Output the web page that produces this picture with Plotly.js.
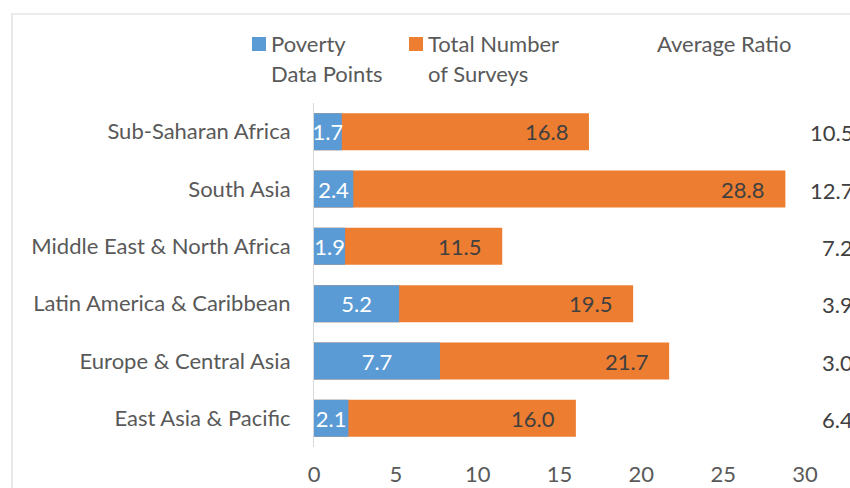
<!DOCTYPE html>
<html>
<head>
<meta charset="utf-8">
<script src="https://cdn.plot.ly/plotly-3.0.1.min.js"></script>
<style>html,body{margin:0;padding:0;background:#fff;}#chart{width:850px;height:488px;}</style>
</head>
<body>
<div id="chart"></div>
<script>
// Data (bottom to top, as drawn)
const regions = ["East Asia & Pacific", "Europe & Central Asia", "Latin America & Caribbean",
                 "Middle East & North Africa", "South Asia", "Sub-Saharan Africa"];
const povertyPoints = [2.1, 7.7, 5.2, 1.9, 2.4, 1.7];
const totalSurveys = [16.0, 21.7, 19.5, 11.5, 28.8, 16.8];
const averageRatio = [6.4, 3.0, 3.9, 7.2, 12.7, 10.5];
const seriesNames = ["Poverty", "Data Points", "Total Number", "of Surveys", "Average Ratio"];
const xTicks = [0, 5, 10, 15, 20, 25, 30];

const FONT = "Lato, 'Open Sans', sans-serif";
const BLUE = "#5B9BD5", ORANGE = "#ED7D31";
const FS = 22;

const traces = [
  {
    type: "bar", orientation: "h", name: "Total Number of Surveys",
    y: regions, x: totalSurveys, width: 0.645,
    marker: {color: ORANGE}, hoverinfo: "x+y"
  },
  {
    type: "bar", orientation: "h", name: "Poverty Data Points",
    y: regions, x: povertyPoints, width: 0.645,
    marker: {color: BLUE},
    text: povertyPoints.map(v => v.toFixed(1)),
    textposition: "inside", insidetextanchor: "middle", textangle: 0,
    constraintext: "none", cliponaxis: false,
    textfont: {family: FONT, size: FS, color: "#ffffff"}, hoverinfo: "x+y"
  }
];

const annotations = [];
regions.forEach((r, i) => {
  // orange value labels, inside end
  annotations.push({
    x: totalSurveys[i], y: r, xref: "x", yref: "y",
    text: totalSurveys[i].toFixed(1), showarrow: false,
    xanchor: "right", xshift: -19,
    font: {family: FONT, size: FS, color: "#404040"}
  });
  // average ratio column
  annotations.push({
    x: 1.1018, y: r, xref: "paper", yref: "y",
    text: averageRatio[i].toFixed(1), showarrow: false,
    xanchor: "right", yshift: -1,
    font: {family: FONT, size: FS, color: "#404040"}
  });
});

// legend (manual)
function pxX(px) { return (px - 314) / 491; }
function pxY(px) { return 1 + (103 - px) / 344; }
const legendText = [
  [seriesNames[0], 269, 44], [seriesNames[1], 269, 73],
  [seriesNames[2], 426, 44], [seriesNames[3], 426, 73],
  [seriesNames[4], 655, 44]
];
legendText.forEach(t => annotations.push({
  x: pxX(t[1]), y: pxY(t[2]), xref: "paper", yref: "paper",
  text: t[0], showarrow: false, xanchor: "left", yanchor: "middle",
  font: {family: FONT, size: FS, color: "#595959"}
}));

const shapes = [
  {type: "rect", xref: "paper", yref: "paper", x0: pxX(252), x1: pxX(266), y0: pxY(51), y1: pxY(37),
   fillcolor: BLUE, line: {width: 0}},
  {type: "rect", xref: "paper", yref: "paper", x0: pxX(409), x1: pxX(423), y0: pxY(51), y1: pxY(37),
   fillcolor: ORANGE, line: {width: 0}},
  {type: "rect", xref: "paper", yref: "paper", x0: pxX(12), x1: 1.3, y0: -0.4, y1: pxY(14),
   fillcolor: "rgba(0,0,0,0)", line: {color: "#d9d9d9", width: 1.2}, layer: "below"}
];

const layout = {
  width: 850, height: 488,
  margin: {l: 314, r: 45, t: 103, b: 41, pad: 0},
  paper_bgcolor: "#ffffff", plot_bgcolor: "#ffffff",
  barmode: "overlay", showlegend: false,
  font: {family: FONT, size: FS, color: "#595959"},
  xaxis: {
    range: [0, 30], tickvals: xTicks, ticktext: xTicks.map(String),
    showgrid: false, zeroline: false, showline: false, ticks: "",
    ticklabelstandoff: 12, tickfont: {family: FONT, size: FS, color: "#595959"}, fixedrange: true
  },
  yaxis: {
    type: "category", categoryorder: "array", categoryarray: regions,
    showgrid: false, zeroline: false, showline: true, linecolor: "#d9d9d9", linewidth: 1,
    ticks: "", ticklabelstandoff: 18, tickfont: {family: FONT, size: FS, color: "#595959"}, fixedrange: true
  },
  annotations: annotations,
  shapes: shapes
};

Plotly.newPlot("chart", traces, layout, {displayModeBar: false, staticPlot: true});
</script>
</body>
</html>
